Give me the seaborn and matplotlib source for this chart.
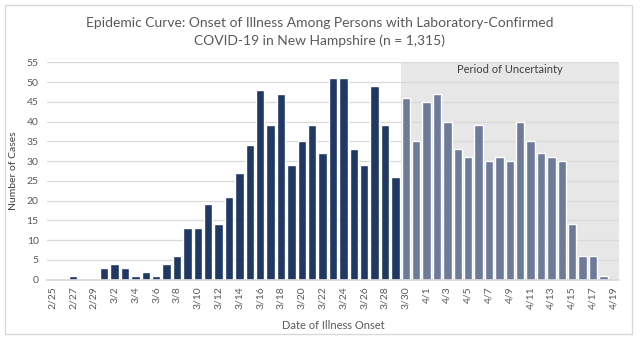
import matplotlib
matplotlib.use("Agg")
import matplotlib.pyplot as plt
import matplotlib.patches as mpatches
import seaborn as sns
import pandas as pd
import numpy as np

dates = (["2/25", "2/26", "2/27", "2/28", "2/29"]
         + [f"3/{d}" for d in range(1, 32)]
         + [f"4/{d}" for d in range(1, 20)])
cases = [0, 0, 1, 0, 0,
         3, 4, 3, 1, 2, 1, 4, 6, 13, 13, 19, 14, 21, 27, 34,
         48, 39, 47, 29, 35, 39, 32, 51, 51, 33, 29, 49, 39, 26,
         46, 35,
         45, 47, 40, 33, 31, 39, 30, 31, 30, 40, 35, 32, 31, 30,
         14, 6, 6, 1, 0]
uncertainty_start = "3/30"
yticks = list(range(0, 56, 5))

title = ("Epidemic Curve: Onset of Illness Among Persons with Laboratory-Confirmed\n"
         "COVID-19 in New Hampshire (n = 1,315)")

start_idx = dates.index(uncertainty_start)
group = ["Confirmed" if i < start_idx else "Uncertain" for i in range(len(dates))]
df = pd.DataFrame({"date": dates, "cases": cases, "group": group})

sns.set_theme(style="white")
plt.rcParams["font.family"] = ["Lato", "DejaVu Sans"]

W, H = 640, 339
fig = plt.figure(figsize=(W / 100, H / 100), dpi=100)
ax = fig.add_axes([47 / W, 1 - 279.5 / H, (619 - 47) / W, (279.5 - 62.3) / H])

txt = "#595959"
grid = "#D9D9D9"

# shaded region
ax.axvspan(start_idx - 0.5, len(dates) - 0.5, color="#E7E7E7", zorder=0, lw=0)
for y in yticks:
    ax.axhline(y, color=grid, lw=0.9, zorder=1)

sns.barplot(data=df, x="date", y="cases", hue="group",
            palette={"Confirmed": "#203864", "Uncertain": "#6E7B98"},
            dodge=False, width=0.8, legend=False, ax=ax, zorder=3,
            order=dates, saturation=1)

ax.set_xlim(-0.5, len(dates) - 0.5)
ax.set_ylim(0, 55)
ax.set_yticks(yticks)
ax.tick_params(axis="y", length=0, labelsize=7.5, labelcolor=txt, pad=6)

ax.set_xticks(range(0, len(dates), 2))
ax.set_xticklabels(dates[::2], rotation=90, fontsize=7.5, color=txt)
ax.tick_params(axis="x", which="major", length=0, pad=5)
ax.set_xticks(np.arange(-0.5, len(dates), 2), minor=True)
ax.tick_params(axis="x", which="minor", length=4, color=grid, width=0.9)

for s in ["top", "right", "left"]:
    ax.spines[s].set_visible(False)
ax.spines["bottom"].set_color(grid)
ax.spines["bottom"].set_zorder(4)

ax.set_xlabel("Date of Illness Onset", fontsize=8, color=txt, labelpad=8)
ax.set_ylabel("Number of Cases", fontsize=7.5, color="#404040", labelpad=6)

ax.text((start_idx - 0.5 + len(dates) - 0.5) / 2, 53.3, "Period of Uncertainty",
        ha="center", va="center", fontsize=8, color="#404040", zorder=5)

fig.text(0.5, 1 - 32 / H, title, ha="center", va="center", fontsize=10,
         color=txt, linespacing=1.5)

fig.patches.append(mpatches.Rectangle((5 / W, 5 / H), 627 / W, 329 / H,
                                      transform=fig.transFigure, fill=False,
                                      edgecolor=grid, lw=1))

fig.savefig("out.png", dpi=100)
